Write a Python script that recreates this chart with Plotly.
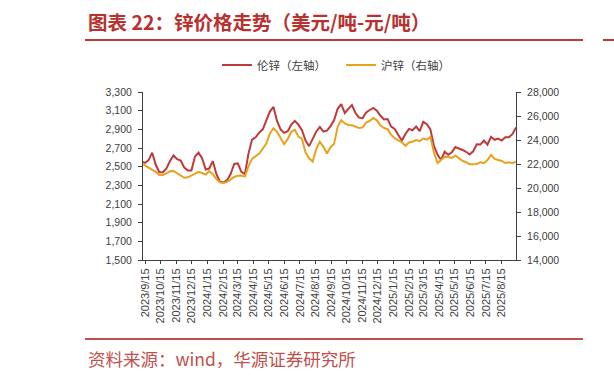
import pandas as pd
import plotly.graph_objects as go

# ---- data ----
dates = ["2023-09-11"] + [d.strftime("%Y-%m-%d") for d in pd.date_range("2023-09-15", periods=105, freq="7D")]

lme_zinc = [2550, 2540, 2570, 2650, 2520, 2440, 2440, 2480, 2560, 2620,
            2580, 2565, 2490, 2460, 2460, 2608, 2650, 2590, 2470, 2480,
            2560, 2420, 2340, 2330, 2355, 2420, 2530, 2535, 2445, 2420,
            2640, 2790, 2815, 2865, 2900, 2990, 3090, 3140, 2990, 2900,
            2862, 2880, 2950, 2990, 2950, 2890, 2780, 2720, 2795, 2875,
            2925, 2875, 2885, 2935, 3000, 3120, 3170, 3075, 3120, 3160,
            3075, 3025, 3020, 3080, 3107, 3130, 3100, 3045, 3005, 3010,
            2929, 2905, 2840, 2780, 2850, 2905, 2890, 2929, 2880, 2980,
            2955, 2900, 2720, 2630, 2572, 2660, 2628, 2655, 2710, 2690,
            2679, 2660, 2630, 2665, 2740, 2737, 2780, 2735, 2820, 2788,
            2800, 2780, 2815, 2815, 2848, 2920]

shfe_zinc = [21970, 21870, 21680, 21490, 21350, 21083, 21083, 21210, 21400, 21420,
             21240, 21040, 20850, 20890, 21030, 21220, 21350, 21250, 21120, 21400,
             21150, 20750, 20470, 20410, 20510, 20720, 20920, 21030, 21040, 20950,
             21820, 22430, 22680, 22870, 23270, 23700, 24550, 24975, 24680, 24150,
             23650, 24090, 24690, 24850, 24280, 24100, 22950, 22470, 22200, 23250,
             23860, 23430, 22870, 23400, 23680, 25100, 25660, 25380, 25250, 25230,
             25110, 25000, 25050, 25460, 25600, 25840, 25640, 25210, 25000, 24900,
             24420, 24140, 23960, 23810, 23520, 23800, 23860, 24000, 23900, 24120,
             24030, 24250, 22950, 22080, 22330, 22610, 22580, 22500, 22710, 22480,
             22270, 22150, 21980, 21970, 22000, 22150, 22080, 22320, 22760, 22430,
             22330, 22250, 22080, 22140, 22070, 22190]

tick_dates = [d.strftime("%Y-%m-%d") for d in pd.date_range("2023-09-01", "2025-08-01", freq="MS") + pd.Timedelta(days=14)]
tick_labels = [f"{d.year}/{d.month}/{d.day}" for d in pd.to_datetime(tick_dates)]

series_names = ["伦锌（左轴）", "沪锌（右轴）"]
title_text = "图表 22：锌价格走势（美元/吨-元/吨）"
source_text = "资料来源：wind，华源证券研究所"

# ---- figure ----
W, H = 614, 378
L, R, T, B = 143, 516, 92, 260
pw, ph = R - L, B - T

def px(x):
    return (x - L) / pw

def py(y):
    return (B - y) / ph

RED = "#BE3A3A"
YEL = "#E8A21C"
AX = "#404040"
TXT = "#404040"

fig = go.Figure()
fig.add_trace(go.Scatter(x=dates, y=lme_zinc, name=series_names[0], mode="lines",
                         line=dict(color=RED, width=2), yaxis="y"))
fig.add_trace(go.Scatter(x=dates, y=shfe_zinc, name=series_names[1], mode="lines",
                         line=dict(color=YEL, width=2), yaxis="y2"))

fig.update_layout(
    width=W, height=H, autosize=False,
    margin=dict(l=L, r=W - R, t=T, b=H - B, pad=0),
    paper_bgcolor="white", plot_bgcolor="white",
    font=dict(family="Liberation Sans, Arial, sans-serif", color=TXT),
    showlegend=True,
    legend=dict(orientation="h", x=px(217), y=py(65), xanchor="left", yanchor="middle",
                font=dict(family="Noto Sans CJK SC", size=11.5, color=TXT),
                itemwidth=30, entrywidth=79, entrywidthmode="pixels",
                bgcolor="rgba(0,0,0,0)", traceorder="normal"),
    xaxis=dict(type="date", range=["2023-09-11", "2025-09-12"],
               tickmode="array", tickvals=tick_dates, ticktext=tick_labels,
               tickangle=-90, tickfont=dict(size=11, color=TXT),
               showline=True, linecolor=AX, linewidth=1,
               ticks="outside", ticklen=3, tickcolor=AX,
               showgrid=False, zeroline=False),
    yaxis=dict(range=[1500, 3300], dtick=200, tick0=1500, tickformat=",",
               tickfont=dict(size=10.5, color=TXT),
               showline=True, linecolor=AX, linewidth=1,
               ticks="outside", ticklen=4, tickcolor=AX, ticklabelstandoff=4,
               showgrid=False, zeroline=False),
    yaxis2=dict(range=[14000, 28000], dtick=2000, tick0=14000, tickformat=",",
                overlaying="y", side="right",
                tickfont=dict(size=10.5, color=TXT),
                showline=True, linecolor=AX, linewidth=1,
                ticks="outside", ticklen=4, tickcolor=AX, ticklabelstandoff=4,
                showgrid=False, zeroline=False),
)

def rule(x0, x1, y, color, thick):
    # a thin filled box drawn as an annotation (horizontal rule outside the plot area)
    fig.add_annotation(text="", xref="paper", yref="paper", x=px(x0), y=py(y),
                       xanchor="left", yanchor="middle", showarrow=False,
                       width=x1 - x0, height=thick, bgcolor=color, borderpad=0, borderwidth=0,
                       font=dict(size=1))

# title, rules and source note
fig.add_annotation(text=title_text, xref="paper", yref="paper", x=px(86), y=py(22),
                   xanchor="left", yanchor="middle", showarrow=False,
                   font=dict(family="Noto Sans CJK SC", size=19.5, color="#B8312F", weight="bold"))
rule(85, 583, 40, "#BE3A3A", 2)
rule(603, 614, 40, "#BE3A3A", 2)
rule(85, 583, 339, "#C0504D", 2)
fig.add_annotation(text=source_text, xref="paper", yref="paper", x=px(86), y=py(358),
                   xanchor="left", yanchor="middle", showarrow=False,
                   font=dict(family="Noto Sans CJK SC", size=17.5, color="#C0504D"))

fig.write_html("out.html", config={"displayModeBar": False},
               post_script="document.body.style.margin='0';")
